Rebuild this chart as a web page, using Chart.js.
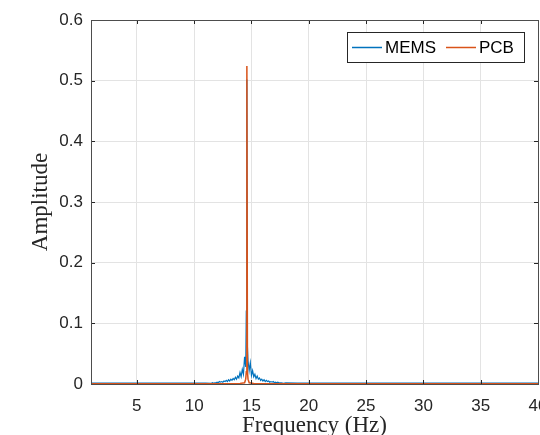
<!DOCTYPE html>
<html>
<head>
<meta charset="utf-8">
<script src="https://cdn.jsdelivr.net/npm/chart.js@4.4.1/dist/chart.umd.min.js"></script>
<style>
	html, body { margin: 0; padding: 0; background: #fff; }
	#wrap { width: 540px; height: 435px; }
</style>
</head>
<body>
<div id="wrap"><canvas id="spectrumChart" width="540" height="435"></canvas></div>
<script>
// tick values
const xTicks = [5, 10, 15, 20, 25, 30, 35, 40];
const yTicks = [0, 0.1, 0.2, 0.3, 0.4, 0.5, 0.6];

// MEMS spectrum
const memsFreq = [
	1, 2, 3, 4, 5, 6, 7, 8, 9, 10, 11,
	11.5, 11.6, 11.7, 11.8, 11.9, 12.0, 12.1, 12.2, 12.3, 12.4, 12.5, 12.6, 12.7, 12.8, 12.9,
	13.0, 13.1, 13.2, 13.3, 13.4, 13.5, 13.6, 13.7, 13.8, 13.9,
	14.0, 14.1, 14.2, 14.3, 14.4, 14.5, 14.55, 14.6, 14.65, 14.7, 14.8, 14.9,
	15.0, 15.1, 15.2, 15.3, 15.4, 15.5, 15.6, 15.7, 15.8, 15.9,
	16.0, 16.1, 16.2, 16.3, 16.4, 16.5, 16.6, 16.7, 16.8, 16.9,
	17.0, 17.1, 17.2, 17.3, 17.4, 17.5, 17.6, 17.8, 18.0,
	19, 20, 22, 25, 28, 30, 33, 36, 40
];
const memsAmp = [
	0.0015, 0.0015, 0.0015, 0.0015, 0.0015, 0.0015, 0.0015, 0.0015, 0.0015, 0.0015, 0.0015,
	0.001, 0.002, 0.001, 0.002, 0.002, 0.003, 0.002, 0.004, 0.003, 0.004, 0.003, 0.005, 0.004, 0.006, 0.004,
	0.007, 0.005, 0.008, 0.006, 0.009, 0.007, 0.011, 0.008, 0.013, 0.010,
	0.019, 0.012, 0.024, 0.016, 0.045, 0.028, 0.12, 0.502, 0.06, 0.038, 0.022, 0.035,
	0.014, 0.022, 0.012, 0.016, 0.009, 0.013, 0.008, 0.010, 0.006, 0.008,
	0.005, 0.007, 0.004, 0.006, 0.004, 0.005, 0.003, 0.004, 0.003, 0.004,
	0.002, 0.003, 0.002, 0.003, 0.002, 0.002, 0.002, 0.001, 0.002,
	0.0015, 0.0015, 0.0015, 0.0015, 0.0015, 0.0015, 0.0015, 0.0015, 0.0015
];

// PCB spectrum
const pcbFreq = [1, 5, 10, 13, 14, 14.4, 14.5, 14.55, 14.6, 14.65, 14.7, 14.8, 15.2, 16, 20, 25, 30, 35, 40];
const pcbAmp = [0.0005, 0.0005, 0.0005, 0.0005, 0.001, 0.002, 0.008, 0.02, 0.524, 0.02, 0.008, 0.002, 0.001, 0.0005, 0.0005, 0.0005, 0.0005, 0.0005, 0.0005];

const memsColor = '#0072BD';
const pcbColor = '#D95319';
const axisColor = '#262626';
const sansFont = '"Liberation Sans", Arial, sans-serif';
const serifFont = '"Liberation Serif", "Times New Roman", serif';

function toPoints(xs, ys) {
	return xs.map(function(x, i) {
		return { x: x, y: ys[i] };
	});
}

// box, inward ticks and legend, MATLAB style
const matlabAxes = {
	id: 'matlabAxes',
	afterDraw: function(chart) {
		var ctx = chart.ctx;
		var a = chart.chartArea;
		var xs = chart.scales.x;
		var ys = chart.scales.y;
		ctx.save();
		ctx.strokeStyle = axisColor;
		ctx.lineWidth = 1;
		ctx.beginPath();
		xTicks.forEach(function(t) {
			var px = Math.round(xs.getPixelForValue(t)) + 0.5;
			ctx.moveTo(px, a.bottom); ctx.lineTo(px, a.bottom - 4);
			ctx.moveTo(px, a.top); ctx.lineTo(px, a.top + 4);
		});
		yTicks.forEach(function(t) {
			var py = Math.round(ys.getPixelForValue(t)) + 0.5;
			ctx.moveTo(a.left, py); ctx.lineTo(a.left + 4, py);
			ctx.moveTo(a.right, py); ctx.lineTo(a.right - 4, py);
		});
		ctx.stroke();
		ctx.strokeStyle = '#4d4d4d';
		ctx.strokeRect(Math.round(a.left) + 0.5, Math.round(a.top) + 0.5, Math.round(a.right - a.left), Math.round(a.bottom - a.top));

		// legend
		var bx = 347.5, by = 32.5, bw = 177, bh = 30;
		ctx.fillStyle = '#fff';
		ctx.fillRect(bx, by, bw, bh);
		ctx.strokeStyle = '#262626';
		ctx.strokeRect(bx, by, bw, bh);
		ctx.font = '17px ' + sansFont;
		ctx.textBaseline = 'middle';
		ctx.fillStyle = '#000';
		var items = [
			{ label: chart.data.datasets[0].label, color: memsColor, x: 352, tx: 385 },
			{ label: chart.data.datasets[1].label, color: pcbColor, x: 446, tx: 479 }
		];
		items.forEach(function(it) {
			ctx.strokeStyle = it.color;
			ctx.lineWidth = 1.5;
			ctx.beginPath();
			ctx.moveTo(it.x, 47.5);
			ctx.lineTo(it.x + 30, 47.5);
			ctx.stroke();
			ctx.fillText(it.label, it.tx, 48.5);
		});
		ctx.restore();
	}
};

function GetSpectrumChart() {
	var ctx = document.getElementById('spectrumChart').getContext('2d');
	var chart = new Chart(ctx, {
		type: 'line',
		data: {
			datasets: [
				{
					label: 'MEMS',
					data: toPoints(memsFreq, memsAmp),
					borderColor: memsColor,
					borderWidth: 1.2,
					pointRadius: 0,
					order: 2
				},
				{
					label: 'PCB',
					data: toPoints(pcbFreq, pcbAmp),
					borderColor: pcbColor,
					borderWidth: 1.5,
					pointRadius: 0,
					order: 1
				}
			]
		},
		plugins: [matlabAxes],
		options: {
			responsive: false,
			animation: false,
			layout: { padding: { top: 20, right: 2, left: 0, bottom: 0 } },
			plugins: {
				legend: { display: false },
				tooltip: { enabled: false }
			},
			scales: {
				x: {
					type: 'linear',
					min: 1,
					max: 40,
					afterBuildTicks: function(scale) {
						scale.ticks = xTicks.map(function(v) { return { value: v }; });
					},
					afterFit: function(scale) {
						scale.height = 51;
						scale.paddingLeft = 0;
						scale.paddingRight = 0;
					},
					grid: { color: '#e3e3e3', drawTicks: false },
					border: { display: false },
					ticks: {
						padding: 12,
						maxRotation: 0,
						autoSkip: false,
						color: axisColor,
						font: { family: sansFont, size: 17 }
					},
					title: {
						display: true,
						text: 'Frequency (Hz)',
						color: axisColor,
						padding: { top: 0, bottom: -5 },
						font: { family: serifFont, size: 23 }
					}
				},
				y: {
					min: 0,
					max: 0.6,
					afterBuildTicks: function(scale) {
						scale.ticks = yTicks.map(function(v) { return { value: v }; });
					},
					afterFit: function(scale) {
						scale.width = 91;
						scale.paddingTop = 0;
						scale.paddingBottom = 0;
					},
					grid: { color: '#e3e3e3', drawTicks: false },
					border: { display: false },
					ticks: {
						padding: 8,
						color: axisColor,
						font: { family: sansFont, size: 17 },
						callback: function(v) { return String(Math.round(v * 10) / 10); }
					},
					title: {
						display: true,
						text: 'Amplitude',
						color: axisColor,
						padding: { top: 27, bottom: 0 },
						font: { family: serifFont, size: 23 }
					}
				}
			}
		}
	});
	return chart;
}

GetSpectrumChart();
</script>
</body>
</html>
